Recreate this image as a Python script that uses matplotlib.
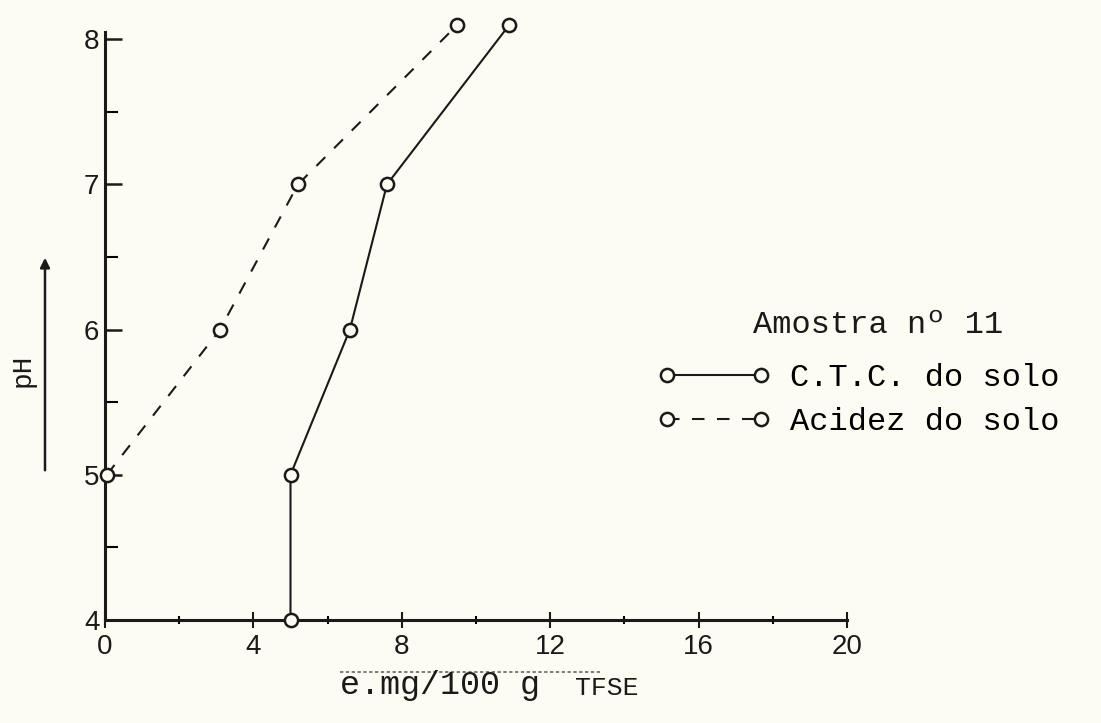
import numpy as np
import matplotlib
matplotlib.use('Agg')
import matplotlib.pyplot as plt
from matplotlib.ticker import MultipleLocator

plt.rcParams.update({
    'font.family': 'Liberation Sans',
})

# data
ph_ctc = [4, 5, 6, 7, 8.1]
ctc = [5.0, 5.0, 6.6, 7.6, 10.9]

ph_acid = [5, 6, 7, 8.1]
acid = [0.05, 3.1, 5.2, 9.5]

x_ticks = [0, 4, 8, 12, 16, 20]
y_ticks = [4, 5, 6, 7, 8]

paper = '#fcfcf3'
ink = '#1a1a1a'
mono = 'Liberation Mono'

fig = plt.figure(figsize=(11.01, 7.23), dpi=100, facecolor=paper)
ax = fig.add_axes([105 / 1101, 1 - 620 / 723, 742 / 1101, 588 / 723])
ax.set_facecolor(paper)

ax.plot(ctc, ph_ctc, color=ink, lw=1.5, marker='o', ms=9.5, mfc=paper,
        mec=ink, mew=1.8, clip_on=False, zorder=3, label='C.T.C. do solo')
ax.plot(acid, ph_acid, color=ink, lw=1.5, ls=(0, (6, 6)), marker='o', ms=9.5,
        mfc=paper, mec=ink, mew=1.8, clip_on=False, zorder=3,
        label='Acidez do solo')

ax.set_xlim(0, 20)
ax.set_ylim(4, 8.05)
for s in ['top', 'right']:
    ax.spines[s].set_visible(False)
ax.spines['left'].set_linewidth(2.2)
ax.spines['bottom'].set_linewidth(2.2)
ax.spines['left'].set_color(ink)
ax.spines['bottom'].set_color(ink)

ax.set_xticks(x_ticks)
ax.set_yticks(y_ticks)
ax.xaxis.set_minor_locator(MultipleLocator(2))
ax.yaxis.set_minor_locator(MultipleLocator(0.5))
ax.tick_params(axis='x', which='major', direction='inout', length=12, width=1.5,
               labelsize=20, pad=4, colors=ink)
ax.tick_params(axis='x', which='minor', direction='inout', length=6, width=1.5)
ax.tick_params(axis='y', which='major', direction='in', length=12, width=1.8,
               labelsize=20, pad=4, colors=ink)
ax.tick_params(axis='y', which='minor', direction='in', length=9, width=1.5)

# x label with hand drawn overline
fig.text(340 / 1101, 0.052, 'e.mg/100 g', fontsize=24, family=mono,
         color=ink, va='center')
fig.text(575 / 1101, 0.048, 'TFSE', fontsize=19, family=mono, color=ink,
         va='center')
fig.add_artist(plt.Line2D([340 / 1101, 600 / 1101], [0.071, 0.071],
                          color='#666666', lw=1.2, ls=(0, (2, 1.5))))

# y label and arrow
fig.text(23 / 1101, 1 - 370 / 723, 'pH', rotation=90, fontsize=20,
         family=mono, color=ink, ha='center', va='center')
ax.annotate('', xy=(45 / 1101, 1 - 255 / 723), xytext=(45 / 1101, 1 - 473 / 723),
            xycoords='figure fraction', textcoords='figure fraction',
            arrowprops=dict(arrowstyle='-|>', color=ink, lw=1.8,
                            mutation_scale=14))

fig.text(753 / 1101, 1 - 325 / 723, 'Amostra nº 11', fontsize=23,
         family=mono, color=ink, va='center')
ax.legend(loc='center left', bbox_to_anchor=(657 / 1101, 1 - 400 / 723),
          bbox_transform=fig.transFigure, frameon=False, numpoints=2,
          handlelength=3.55, handletextpad=0.6, labelspacing=0.45,
          borderpad=0, borderaxespad=0, prop=dict(family=mono, size=23))

fig.savefig('out.png', dpi=100, facecolor=paper)
